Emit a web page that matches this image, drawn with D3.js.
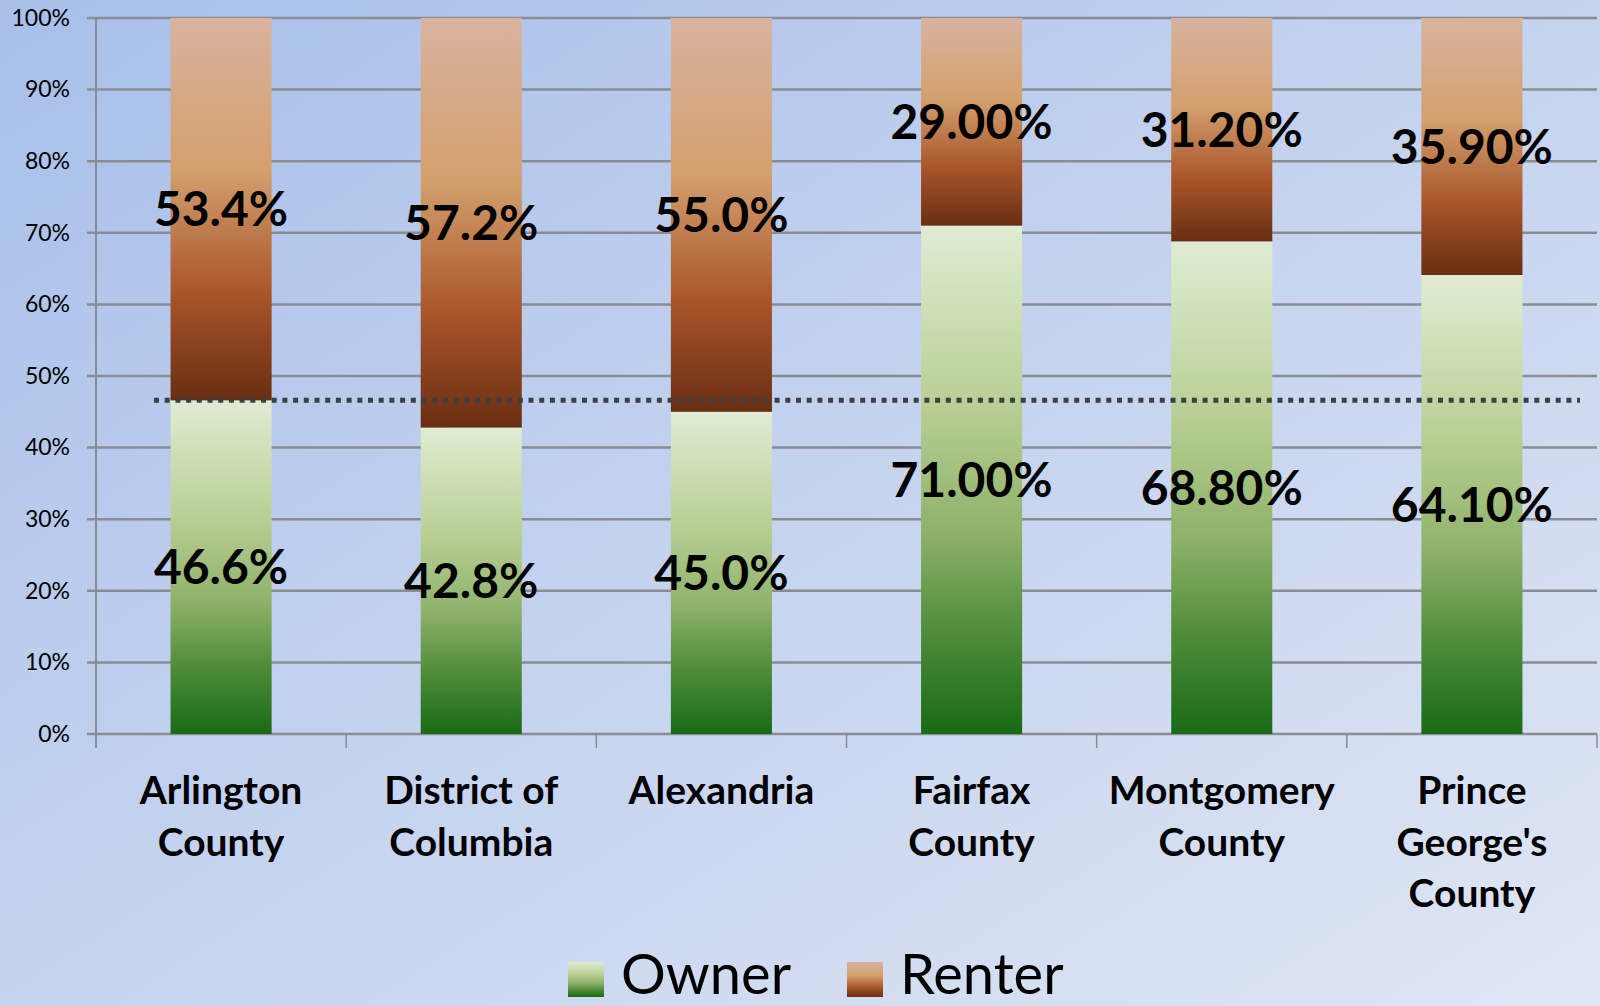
<!DOCTYPE html>
<html>
<head>
<meta charset="utf-8">
<script src="https://cdn.jsdelivr.net/npm/d3@7"></script>
<style>
  body { margin: 0; padding: 0; overflow: hidden; }
  svg { display: block; }
</style>
</head>
<body>
<script>
// data
const categories = ['Arlington County', 'District of Columbia', 'Alexandria', 'Fairfax County', 'Montgomery County', "Prince George's County"];
const categoryLines = [['Arlington', 'County'], ['District of', 'Columbia'], ['Alexandria'], ['Fairfax', 'County'], ['Montgomery', 'County'], ['Prince', "George's", 'County']];
const owner = [46.6, 42.8, 45.0, 71.0, 68.8, 64.1];
const renter = [53.4, 57.2, 55.0, 29.0, 31.2, 35.9];
const ownerLabels = ['46.6%', '42.8%', '45.0%', '71.00%', '68.80%', '64.10%'];
const renterLabels = ['53.4%', '57.2%', '55.0%', '29.00%', '31.20%', '35.90%'];
const yTicks = [0, 10, 20, 30, 40, 50, 60, 70, 80, 90, 100];
const referenceLine = 46.6;
const seriesNames = ['Owner', 'Renter'];

const width = 1600;
const height = 1006;
const plotLeft = 96, plotRight = 1597, plotTop = 18, plotBottom = 734;
const font = 'Lato, "Open Sans", sans-serif';

const svg = d3.select('body')
  .append('svg')
  .attr('width', width)
  .attr('height', height);

const defs = svg.append('defs');

const bg = defs.append('linearGradient')
  .attr('id', 'bg')
  .attr('x1', 0).attr('y1', 0).attr('x2', 1).attr('y2', 1);
bg.append('stop').attr('offset', 0).attr('stop-color', '#a8bfea');
bg.append('stop').attr('offset', 0.5).attr('stop-color', '#c5d3ef');
bg.append('stop').attr('offset', 1).attr('stop-color', '#dfe6f4');

const ownerGrad = defs.append('linearGradient')
  .attr('id', 'ownerGrad')
  .attr('x1', 0).attr('y1', 0).attr('x2', 0).attr('y2', 1);
[[0, '#e0ecd3'], [0.35, '#b9cf95'], [0.6, '#8fb26a'], [0.8, '#4f8c3a'], [1, '#186a16']]
  .forEach(s => ownerGrad.append('stop').attr('offset', s[0]).attr('stop-color', s[1]));

const renterGrad = defs.append('linearGradient')
  .attr('id', 'renterGrad')
  .attr('x1', 0).attr('y1', 0).attr('x2', 0).attr('y2', 1);
[[0, '#d9b39f'], [0.4, '#d39f6d'], [0.72, '#a9552a'], [1, '#692e12']]
  .forEach(s => renterGrad.append('stop').attr('offset', s[0]).attr('stop-color', s[1]));

svg.append('rect')
  .attr('width', width)
  .attr('height', height)
  .attr('fill', 'url(#bg)');

const xScale = d3.scaleBand()
  .domain(categories)
  .range([plotLeft, plotRight])
  .paddingInner(0.596)
  .paddingOuter(0.298);

const yScale = d3.scaleLinear()
  .domain([0, 100])
  .range([plotBottom, plotTop]);

// gridlines
svg.selectAll('.grid')
  .data(yTicks)
  .enter()
  .append('line')
  .attr('class', 'grid')
  .attr('x1', plotLeft - 9)
  .attr('x2', plotRight)
  .attr('y1', d => yScale(d))
  .attr('y2', d => yScale(d))
  .attr('stroke', '#8a8c92')
  .attr('stroke-width', 2.5);

// y axis
const yAxis = d3.axisLeft(yScale)
  .tickValues(yTicks)
  .tickSize(0)
  .tickPadding(26)
  .tickFormat(d => d + '%');

svg.append('g')
  .attr('transform', 'translate(' + plotLeft + ',0)')
  .call(yAxis)
  .call(g => g.select('.domain').remove())
  .selectAll('text')
  .attr('font-family', font)
  .attr('font-size', 23)
  .attr('fill', '#000');

svg.append('line')
  .attr('x1', plotLeft).attr('x2', plotLeft)
  .attr('y1', plotTop).attr('y2', plotBottom + 14)
  .attr('stroke', '#8a8c92')
  .attr('stroke-width', 2);

// category tick marks between bands
const step = xScale.step();
svg.selectAll('.xtick')
  .data(categories)
  .enter()
  .append('line')
  .attr('class', 'xtick')
  .attr('x1', d => xScale(d) - xScale.paddingInner() * step / 2 + step)
  .attr('x2', d => xScale(d) - xScale.paddingInner() * step / 2 + step)
  .attr('y1', plotBottom)
  .attr('y2', plotBottom + 14)
  .attr('stroke', '#8a8c92')
  .attr('stroke-width', 1.5);

// bars
const bars = svg.append('g');
bars.selectAll('.owner')
  .data(categories)
  .enter()
  .append('rect')
  .attr('x', d => xScale(d))
  .attr('width', xScale.bandwidth())
  .attr('y', (d, i) => yScale(owner[i]))
  .attr('height', (d, i) => yScale(0) - yScale(owner[i]))
  .attr('fill', 'url(#ownerGrad)');

bars.selectAll('.renter')
  .data(categories)
  .enter()
  .append('rect')
  .attr('x', d => xScale(d))
  .attr('width', xScale.bandwidth())
  .attr('y', (d, i) => yScale(owner[i] + renter[i]))
  .attr('height', (d, i) => yScale(owner[i]) - yScale(owner[i] + renter[i]))
  .attr('fill', 'url(#renterGrad)');

// reference dotted line
svg.append('line')
  .attr('x1', 154)
  .attr('x2', 1580)
  .attr('y1', yScale(referenceLine))
  .attr('y2', yScale(referenceLine))
  .attr('stroke', '#3d3f43')
  .attr('stroke-width', 5)
  .attr('stroke-dasharray', '5 5.7');

// value labels
const labels = svg.append('g')
  .attr('font-family', font)
  .attr('font-weight', 'bold')
  .attr('font-size', 48)
  .attr('text-anchor', 'middle')
  .attr('fill', '#000');

labels.selectAll('.olab')
  .data(categories)
  .enter()
  .append('text')
  .attr('x', d => xScale(d) + xScale.bandwidth() / 2)
  .attr('y', (d, i) => yScale(owner[i] / 2))
  .attr('dy', '0.36em')
  .text((d, i) => ownerLabels[i]);

labels.selectAll('.rlab')
  .data(categories)
  .enter()
  .append('text')
  .attr('x', d => xScale(d) + xScale.bandwidth() / 2)
  .attr('y', (d, i) => yScale(owner[i] + renter[i] / 2))
  .attr('dy', '0.36em')
  .text((d, i) => renterLabels[i]);

// category labels
const cat = svg.append('g')
  .attr('font-family', font)
  .attr('font-weight', 'bold')
  .attr('font-size', 39)
  .attr('text-anchor', 'middle')
  .attr('fill', '#000');

categories.forEach((c, i) => {
  const t = cat.append('text')
    .attr('x', xScale(c) + xScale.bandwidth() / 2)
    .attr('y', 804);
  categoryLines[i].forEach((line, j) => {
    t.append('tspan')
      .attr('x', xScale(c) + xScale.bandwidth() / 2)
      .attr('y', 804 + j * 51.5)
      .text(line);
  });
});

// legend
const legend = svg.append('g');
const legendX = [568, 847];
seriesNames.forEach((name, i) => {
  legend.append('rect')
    .attr('x', legendX[i])
    .attr('y', 962)
    .attr('width', 36)
    .attr('height', 35)
    .attr('fill', i === 0 ? 'url(#ownerGrad)' : 'url(#renterGrad)');
  legend.append('text')
    .attr('x', legendX[i] + 53)
    .attr('y', 994)
    .attr('font-family', font)
    .attr('font-size', 56)
    .attr('fill', '#000')
    .text(name);
});
</script>
</body>
</html>
